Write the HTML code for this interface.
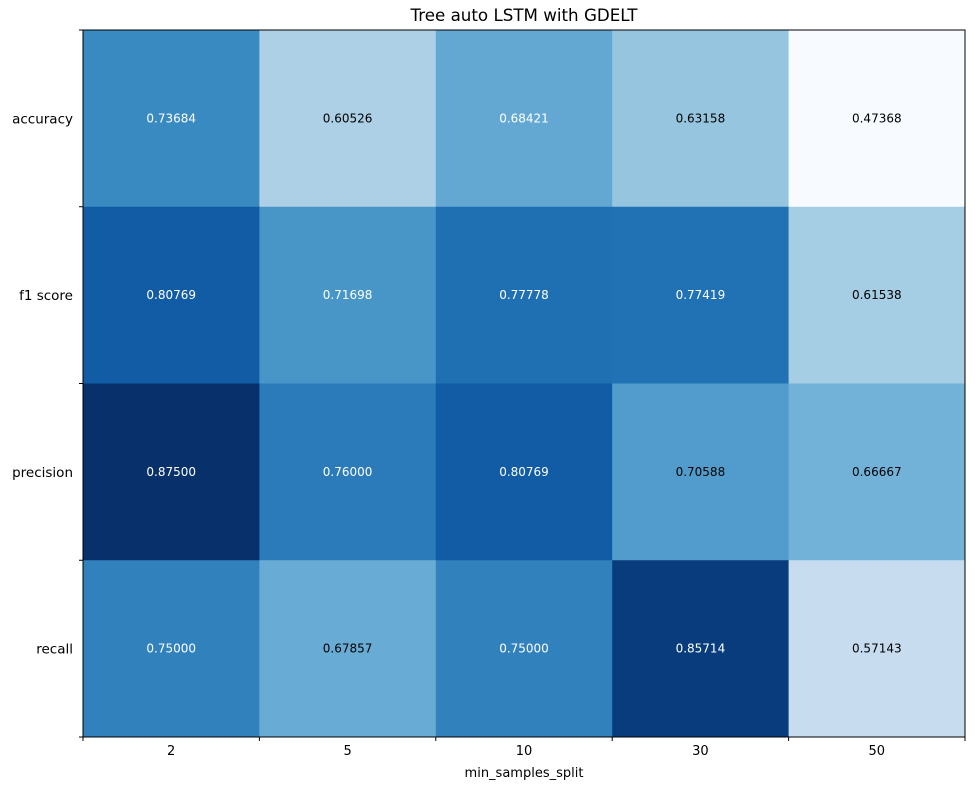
<!DOCTYPE html>
<html><head><meta charset="utf-8"><style>
body{margin:0;background:#fff;}
svg{display:block;font-family:"DejaVu Sans","Liberation Sans",sans-serif;}
</style></head><body>
<svg id="chart" width="975" height="790">
<text x="524" y="21" text-anchor="middle" font-size="16.7">Tree auto LSTM with GDELT</text>
<text x="524" y="777" text-anchor="middle" font-size="13">min_samples_split</text>
<g id="cells"></g>
<rect x="83" y="30" width="882" height="707" fill="none" stroke="#000" stroke-width="1"/>
<g id="ticks"></g>
</svg>
<script>
const xCats = ["2","5","10","30","50"];
const yCats = ["accuracy","f1 score","precision","recall"];
const rowAccuracy = [0.73684,0.60526,0.68421,0.63158,0.47368];
const rowF1 = [0.80769,0.71698,0.77778,0.77419,0.61538];
const rowPrecision = [0.87500,0.76000,0.80769,0.70588,0.66667];
const rowRecall = [0.75000,0.67857,0.75000,0.85714,0.57143];
const values = [rowAccuracy,rowF1,rowPrecision,rowRecall];
const whiteText = [[1,0,1,0,0],[1,1,1,1,0],[1,1,1,0,0],[1,0,1,1,0]];

const L=83,T=30,W=882,H=707;
const cw=W/xCats.length, ch=H/yCats.length;
const xPos=i=>L+i*cw, yPos=j=>T+j*ch;
const all=values.flat(), vmin=Math.min(...all), vmax=Math.max(...all);
const stops=["#f7fbff","#deebf7","#c6dbef","#9ecae1","#6baed6","#4292c6","#2171b5","#08519c","#08306b"];
function hex(h){return [1,3,5].map(k=>parseInt(h.substr(k,2),16));}
function blues(v){
  let t=(v-vmin)/(vmax-vmin); t=Math.max(0,Math.min(1,t));
  const p=t*8, i=Math.min(7,Math.floor(p)), f=p-i;
  const a=hex(stops[i]), b=hex(stops[i+1]);
  return "rgb("+a.map((c,k)=>Math.round(c+(b[k]-c)*f)).join(",")+")";
}
const NS="http://www.w3.org/2000/svg";
const cells=document.getElementById("cells"), ticks=document.getElementById("ticks");
values.forEach((row,j)=>row.forEach((v,i)=>{
  const r=document.createElementNS(NS,"rect");
  r.setAttribute("x",xPos(i));r.setAttribute("y",yPos(j));
  r.setAttribute("width",cw+0.5);r.setAttribute("height",ch+0.5);
  r.setAttribute("fill",blues(v));
  
  
  cells.appendChild(r);
  const t=document.createElementNS(NS,"text");
  t.setAttribute("x",xPos(i)+cw/2);t.setAttribute("y",yPos(j)+ch/2+4);
  t.setAttribute("text-anchor","middle");t.setAttribute("font-size","12");
  t.setAttribute("fill",whiteText[j][i]?"#fff":"#000");
  t.textContent=v.toFixed(5);
  
  
  cells.appendChild(t);
}));
function line(x1,y1,x2,y2){const l=document.createElementNS(NS,"line");
  l.setAttribute("x1",x1);l.setAttribute("y1",y1);l.setAttribute("x2",x2);l.setAttribute("y2",y2);
  l.setAttribute("stroke","#000");
  
  
  ticks.appendChild(l);}
xCats.forEach((c,i)=>{
  const x=xPos(i)+cw/2;
  const t=document.createElementNS(NS,"text");
  t.setAttribute("x",x);t.setAttribute("y",T+H+18);t.setAttribute("text-anchor","middle");t.setAttribute("font-size","13");
  t.textContent=c;
  
  
  ticks.appendChild(t);
});
for(let i=0;i<=xCats.length;i++) line(xPos(i),T+H,xPos(i),T+H+4);
yCats.forEach((c,j)=>{
  const y=yPos(j)+ch/2;
  const t=document.createElementNS(NS,"text");
  t.setAttribute("x",L-10);t.setAttribute("y",y+5);t.setAttribute("text-anchor","end");t.setAttribute("font-size","13.5");
  t.textContent=c;
  
  
  ticks.appendChild(t);
});
for(let j=0;j<=yCats.length;j++) line(L-4,yPos(j),L,yPos(j));
</script>
</body></html>
